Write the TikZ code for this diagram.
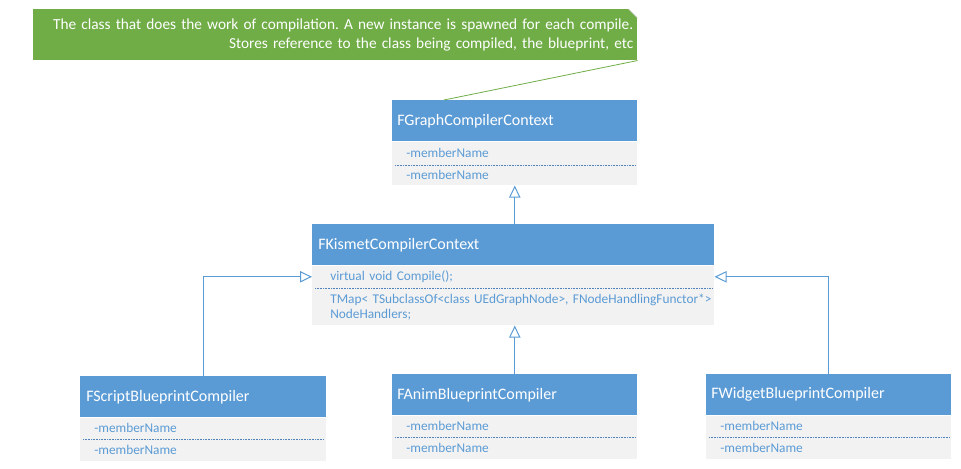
\documentclass[tikz,border=0pt]{standalone}
\usepackage{fontspec}
\setmainfont{Carlito}
\usetikzlibrary{arrows.meta}

\definecolor{umlblue}{HTML}{5B9BD5}
\definecolor{umlgray}{HTML}{F2F2F2}
\definecolor{notegreen}{HTML}{70AD47}
\definecolor{sepblue}{HTML}{4F81BD}

\newcommand\ind[1]{\hspace*{#1}}

\begin{document}
\begin{tikzpicture}[
  x=0.75pt, y=-0.75pt,
  head/.style={fill=umlblue, text=white, font=\fontsize{12}{14}\selectfont, anchor=north west, inner sep=0pt, minimum height=30.75pt, align=left},
  part/.style={fill=umlgray, text=umlblue, font=\fontsize{10}{11.25}\selectfont, anchor=north west, inner sep=0pt, align=left},
  note/.style={fill=notegreen, text=white, font=\fontsize{11.5}{14.5}\selectfont\frenchspacing, anchor=north west, inner xsep=3pt, inner ysep=0pt, align=right},
  sep/.style={sepblue, dash pattern=on 0.6pt off 0.6pt, line width=0.5pt},
  inherit/.style={-{Triangle[open, length=9pt, width=8.5pt]}, umlblue, line width=0.75pt}
]
\useasboundingbox (0,0) rectangle (961,468);

\node[note, text width=447pt, minimum height=38.25pt] (note) at (33,9) {The class that does the work of compilation. A new instance is spawned for each compile.\\Stores reference to the class being compiled, the blueprint, etc};
\fill[white] (note.north east) -- ++(-9,0) -- ++(9,9) -- cycle;
\draw[black!20, line width=0.4pt] ([xshift=-6.75pt]note.north east) -- ([yshift=-6.75pt]note.north east);

\node[head, text width=183.75pt] (gH) at (392,100) {\ind{3.75pt}FGraphCompilerContext};
\node[part, text width=183.75pt, minimum height=17.25pt] (gA) at (gH.south west) {\ind{10.5pt}-memberName};
\node[part, text width=183.75pt, minimum height=15pt] (gB) at (gA.south west) {\ind{10.5pt}-memberName};
\draw[sep] ([xshift=2.25pt]gA.south west) -- ([xshift=-1.5pt]gA.south east);

\node[head, text width=301.5pt] (kH) at (312,224) {\ind{4.5pt}FKismetCompilerContext};
\node[part, text width=301.5pt, minimum height=16.5pt] (kA) at (kH.south west) {\ind{13.5pt}virtual void Compile();};
\node[part, text width=301.5pt, minimum height=27.75pt] (kB) at (kA.south west) {\ind{13.5pt}TMap< TSubclassOf<class UEdGraphNode>, FNodeHandlingFunctor*>\\\ind{13.5pt}NodeHandlers;};
\draw[sep] ([xshift=2.25pt]kA.south west) -- ([xshift=-1.5pt]kA.south east);

\node[head, text width=184.5pt] (sH) at (80,376) {\ind{4.5pt}FScriptBlueprintCompiler};
\node[part, text width=184.5pt, minimum height=15.75pt] (sA) at (sH.south west) {\ind{10.5pt}-memberName};
\node[part, text width=184.5pt, minimum height=16.5pt] (sB) at (sA.south west) {\ind{10.5pt}-memberName};
\draw[sep] ([xshift=2.25pt]sA.south west) -- ([xshift=-1.5pt]sA.south east);

\node[head, text width=183.75pt] (aH) at (392,374) {\ind{3.75pt}FAnimBlueprintCompiler};
\node[part, text width=183.75pt, minimum height=15.75pt] (aA) at (aH.south west) {\ind{10.5pt}-memberName};
\node[part, text width=183.75pt, minimum height=16.5pt] (aB) at (aA.south west) {\ind{10.5pt}-memberName};
\draw[sep] ([xshift=2.25pt]aA.south west) -- ([xshift=-1.5pt]aA.south east);

\node[head, text width=183.75pt] (wH) at (706,374) {\ind{3.75pt}FWidgetBlueprintCompiler};
\node[part, text width=183.75pt, minimum height=15.75pt] (wA) at (wH.south west) {\ind{10.5pt}-memberName};
\node[part, text width=183.75pt, minimum height=16.5pt] (wB) at (wA.south west) {\ind{10.5pt}-memberName};
\draw[sep] ([xshift=2.25pt]wA.south west) -- ([xshift=-1.5pt]wA.south east);

\coordinate (gLink) at (444,100);
\draw[notegreen, line width=0.6pt] (note.south east) -- (gLink);
\draw[inherit] (kH.north -| gB.south) -- (gB.south);
\draw[inherit] (sH.north) |- (kA.west);
\draw[inherit] (wH.north) |- (kA.east);
\draw[inherit] (aH.north) -- (aH.north |- kB.south);
\end{tikzpicture}
\end{document}
